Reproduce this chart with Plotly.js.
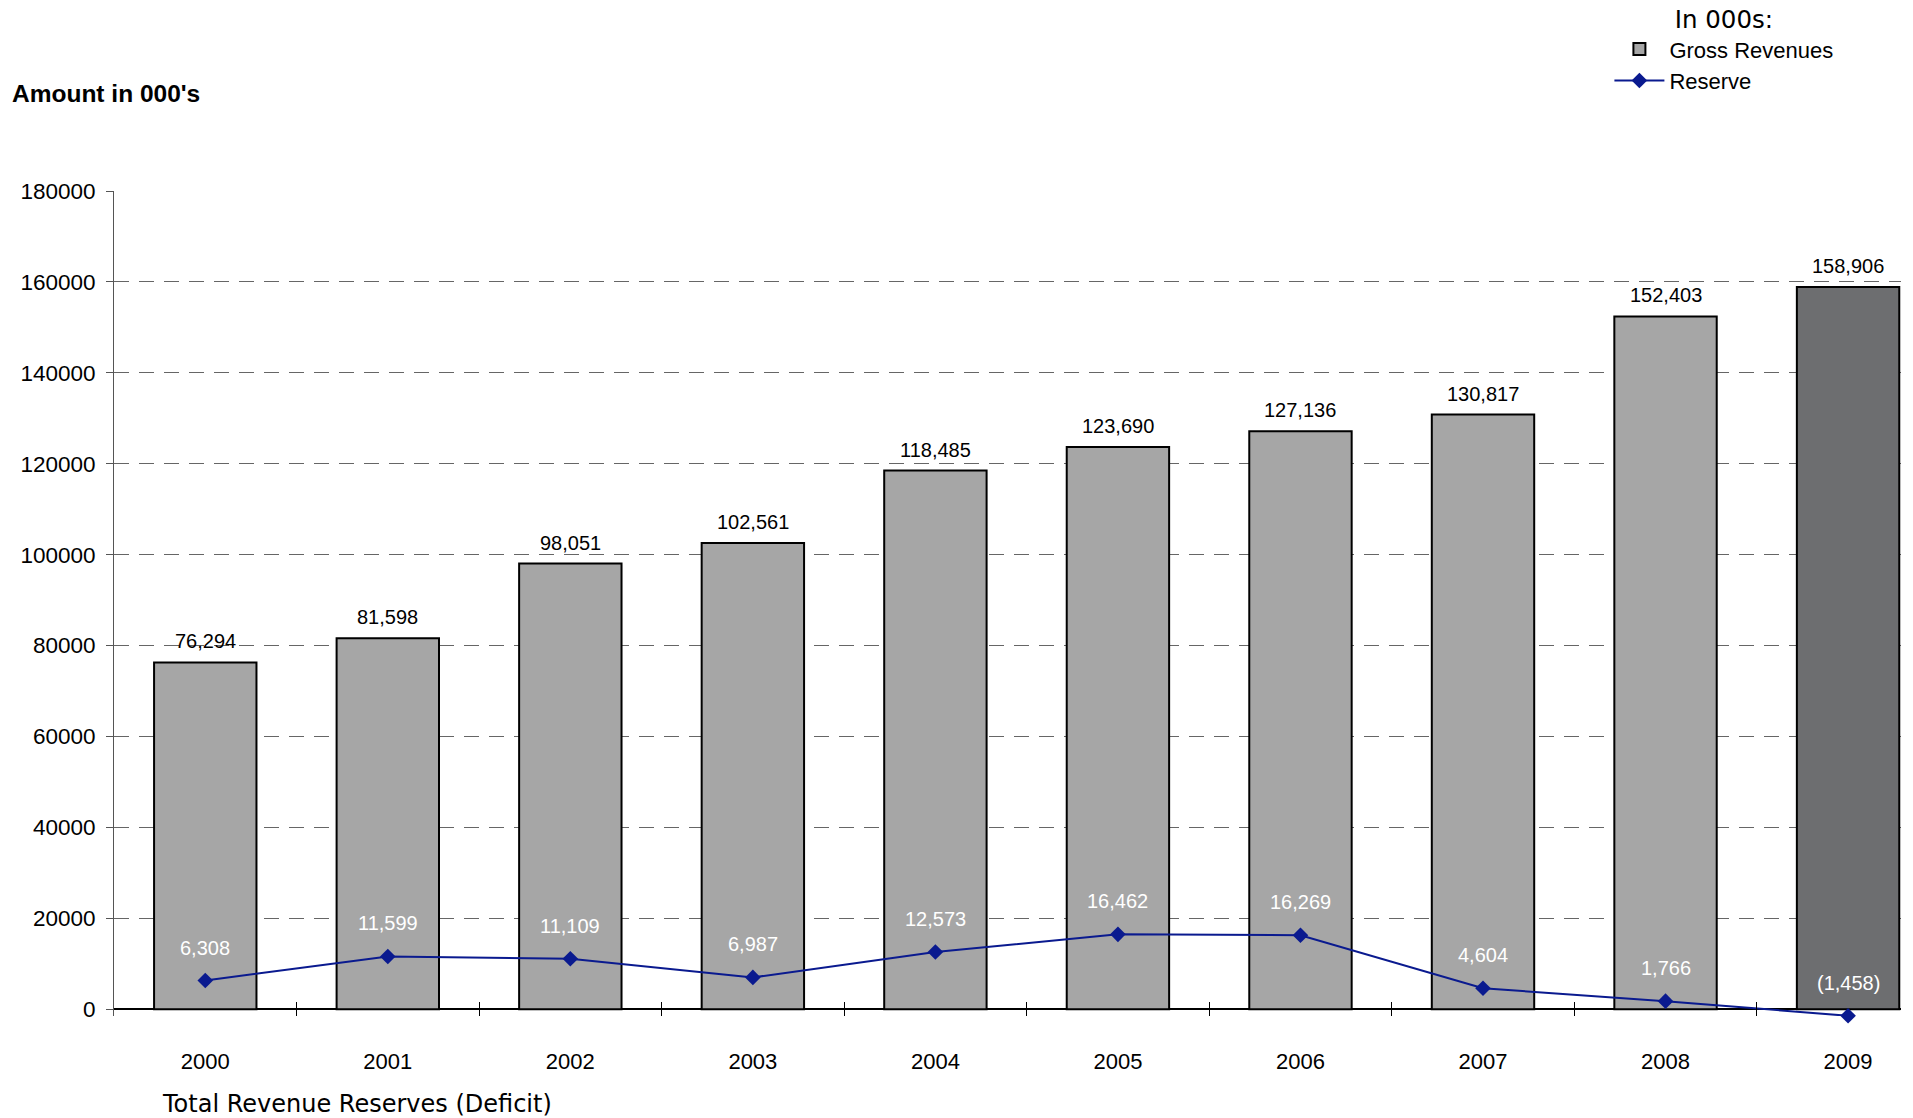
<!DOCTYPE html>
<html>
<head>
<meta charset="utf-8">
<script src="https://cdn.plot.ly/plotly-3.0.1.min.js"></script>
<style>html,body{margin:0;padding:0;background:#fff;}#chart{width:1913px;height:1118px;}</style>
</head>
<body>
<div id="chart"></div>
<script>
const years = ['2000','2001','2002','2003','2004','2005','2006','2007','2008','2009'];
const grossRevenues = [76294, 81598, 98051, 102561, 118485, 123690, 127136, 130817, 152403, 158906];
const reserve = [6308, 11599, 11109, 6987, 12573, 16462, 16269, 4604, 1766, -1458];
const barColors = ['#a6a6a6','#a6a6a6','#a6a6a6','#a6a6a6','#a6a6a6','#a6a6a6','#a6a6a6','#a6a6a6','#a6a6a6','#6d6e70'];

function fmt(v) {
  const s = Math.abs(v).toLocaleString('en-US');
  return v < 0 ? '(' + s + ')' : s;
}

const ARIAL = 'Liberation Sans, Arial, sans-serif';
const VERD = 'DejaVu Sans, Verdana, sans-serif';

const traces = [
  {
    type: 'bar', name: 'Gross Revenues', x: years, y: grossRevenues,
    width: 0.561,
    marker: {color: barColors, line: {color: '#000', width: 2}},
    hoverinfo: 'x+y'
  },
  {
    type: 'scatter', mode: 'lines+markers', name: 'Reserve', x: years, y: reserve,
    line: {color: '#0a1a8f', width: 2},
    marker: {symbol: 'diamond', size: 12, color: '#0a1a8f'},
    cliponaxis: false
  }
];

const annotations = [];
years.forEach((yr, i) => {
  annotations.push({
    x: i, y: grossRevenues[i], xref: 'x', yref: 'y', text: fmt(grossRevenues[i]),
    showarrow: false, yanchor: 'bottom', yshift: 8,
    font: {family: ARIAL, size: 20, color: '#000'}
  });
  annotations.push({
    x: i, y: reserve[i], xref: 'x', yref: 'y', text: fmt(reserve[i]),
    showarrow: false, yanchor: 'middle', yshift: 33,
    font: {family: ARIAL, size: 20, color: '#ffffff'}
  });
});
annotations.push({
  xref: 'paper', yref: 'paper', x: 0.0255, y: -0.1065, xanchor: 'left', yanchor: 'middle',
  text: 'Total Revenue Reserves (Deficit)', showarrow: false,
  font: {family: VERD, size: 24, color: '#000'}
});

const layout = {
  width: 1913, height: 1118,
  margin: {l: 113.5, r: 12, t: 191, b: 101.9, pad: 0, autoexpand: false},
  paper_bgcolor: '#fff', plot_bgcolor: '#fff',
  title: {
    text: "<b>Amount in 000's</b>", xref: 'container', yref: 'container',
    x: 12/1913, xanchor: 'left', y: 1 - 93/1118, yanchor: 'middle',
    font: {family: ARIAL, size: 24.5, color: '#000'}
  },
  showlegend: true,
  legend: {
    x: 0.9009, xanchor: 'center', y: 1.236, yanchor: 'top',
    bgcolor: 'rgba(0,0,0,0)', itemwidth: 50,
    title: {text: 'In 000s:', side: 'top center', font: {family: VERD, size: 24.5, color: '#000'}},
    font: {family: ARIAL, size: 22, color: '#000'},
    traceorder: 'normal'
  },
  xaxis: {
    type: 'category', range: [-0.5, 9.29],
    showline: false, showgrid: false, zeroline: false,
    ticks: 'inside', ticklen: 14, tickcolor: '#000', tickwidth: 1,
    tickson: 'boundaries',
    ticklabelstandoff: 30,
    tickfont: {family: ARIAL, size: 22, color: '#000'},
    fixedrange: true
  },
  yaxis: {
    range: [-1500, 180000], tick0: 0, dtick: 20000, tickformat: 'd',
    showline: true, linecolor: '#555', linewidth: 1,
    ticks: 'outside', ticklen: 7, tickcolor: '#555', tickwidth: 1,
    showgrid: true, gridcolor: '#666', gridwidth: 1, griddash: '15px,10px',
    zeroline: true, zerolinecolor: '#000', zerolinewidth: 1.5,
    ticklabelstandoff: 6,
    tickfont: {family: ARIAL, size: 22.5, color: '#000'},
    fixedrange: true
  },
  bargap: 0.44,
  annotations: annotations
};

Plotly.newPlot('chart', traces, layout, {displayModeBar: false, staticPlot: true});
</script>
</body>
</html>
